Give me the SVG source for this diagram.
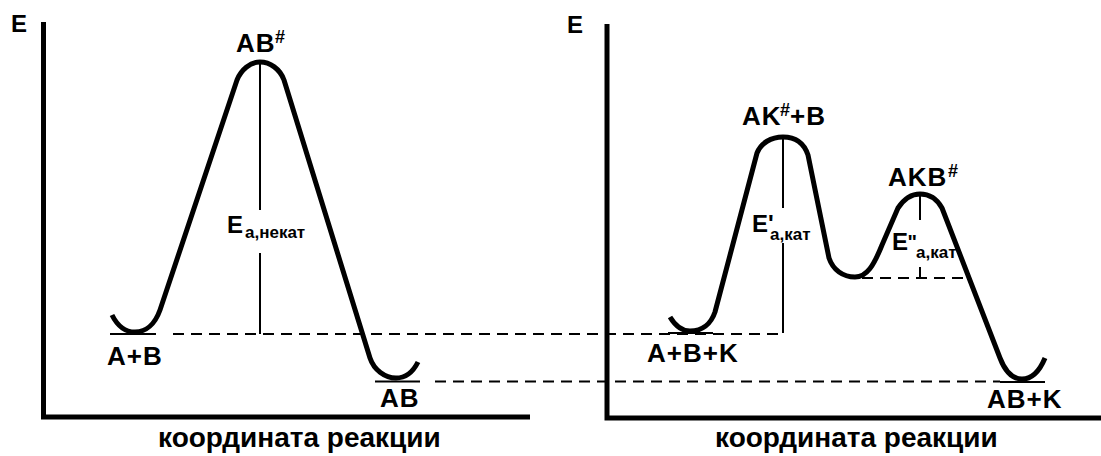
<svg xmlns="http://www.w3.org/2000/svg" width="1101" height="456" viewBox="0 0 1101 456">
<style>
.axis{fill:none;stroke:#000;stroke-width:5;stroke-linejoin:miter}
.curve{fill:none;stroke:#000;stroke-width:5;stroke-linecap:butt;stroke-linejoin:round}
.thin{fill:none;stroke:#000;stroke-width:2}
.dash{fill:none;stroke:#000;stroke-width:2;stroke-dasharray:11 7}
text{font-family:"Liberation Sans",Arial,sans-serif;font-weight:bold;fill:#000}
.lbl{font-size:26px;letter-spacing:1px}
.ax{font-size:28px}
.sup{font-size:18px}
.sub{font-size:17px}
.big{font-size:24px}
</style>
<g id="left-axes">
<path class="axis" d="M43.5,22 V417 H530"/>
<text class="big" x="11" y="32">E</text>
<text class="ax" x="158" y="447">координата реакции</text>
</g>
<g id="right-axes">
<path class="axis" d="M607,24 V418 H1101"/>
<text class="big" x="567" y="33">E</text>
<text class="ax" x="715" y="447">координата реакции</text>
</g>
<g id="connectors">
<path class="dash" d="M173,334 H783"/>
<path class="dash" d="M435,381.5 H1000"/>
<path class="dash" d="M862,278 H965"/>
<path class="thin" d="M260,62 V210 M260,253 V334"/>
<path class="thin" d="M783,137 V208 M783,243 V333"/>
<path class="thin" d="M920,194 V220 M920,267 V278"/>
<path class="thin" d="M110,334 H156 M375,381.5 H420 M668,333 H713 M1000,382 H1045"/>
</g>
<g id="curve-uncat">
<path class="curve" d="M112,315 C118,327 126,332 135,332 C146,332 155,324 160,310 L237,80 C241,70 250,62 260,62 C270,62 280,69 284,80 L370,358 C374,370 385,378 396,378 C406,378 413,372 418,362"/>
</g>
<g id="curve-cat">
<path class="curve" d="M670,317 C676,327 682,331 690,331 C702,331 711,324 715,312 L757,153 C761,143 771,137 783,137 C795,137 804,143 808,155 L829,258 C833,270 843,277 855,277 C867,277 874,265 882,245 L898,208 C904,199 911,194 920,194 C930,194 937,199 942,208 L1000,358 C1005,371 1012,379 1022,379 C1032,379 1040,370 1045,358"/>
</g>
<g id="node-AB-ts">
<text class="lbl" x="236" y="52">AB<tspan class="sup" x="275" y="43">#</tspan></text>
</g>
<g id="node-Ea-uncat">
<text class="big" x="227" y="233">E<tspan class="sub" x="245" y="238">а,некат</tspan></text>
</g>
<g id="node-AplusB">
<text class="lbl" x="107" y="365">A+B</text>
</g>
<g id="node-AB">
<text class="lbl" x="380" y="407">AB</text>
</g>
<g id="node-AK-ts">
<text class="lbl" x="742" y="125">AK<tspan class="sup" x="780" y="116">#</tspan><tspan x="790" y="125">+B</tspan></text>
</g>
<g id="node-AKB-ts">
<text class="lbl" x="888" y="186">AKB<tspan class="sup" x="948" y="177">#</tspan></text>
</g>
<g id="node-Ea1">
<text class="big" x="752" y="232">E'<tspan class="sub" x="770" y="240">а,кат</tspan></text>
</g>
<g id="node-Ea2">
<text class="big" x="892" y="250">E<tspan x="907.5" y="249" font-size="20">"</tspan><tspan class="sub" x="916" y="258">а,кат</tspan></text>
</g>
<g id="node-ABK">
<text class="lbl" x="647" y="362">A+B+K</text>
</g>
<g id="node-ABplusK">
<text class="lbl" x="987" y="408">AB+K</text>
</g>
</svg>
